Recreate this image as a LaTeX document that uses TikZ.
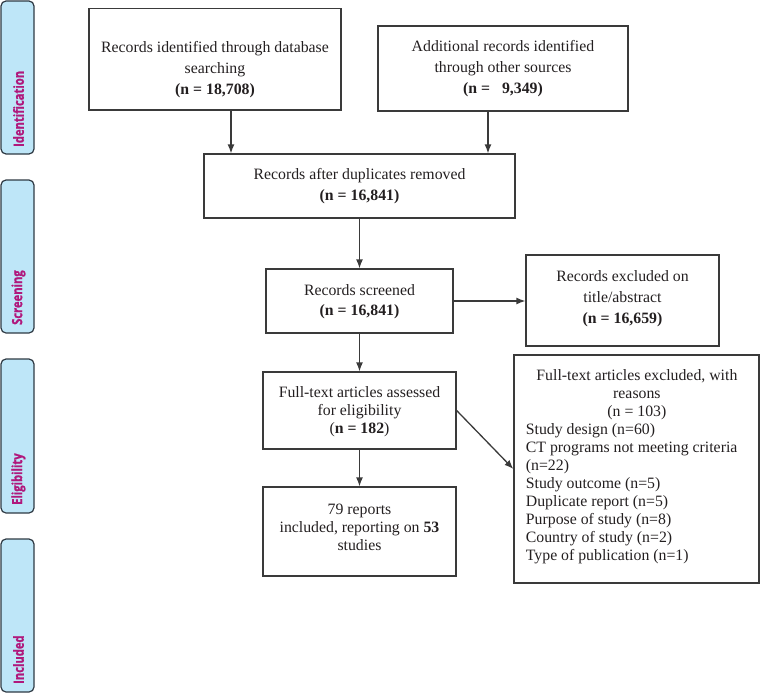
\documentclass[tikz,border=0pt]{standalone}
\usepackage{fontspec}
\setmainfont{Liberation Serif}
\newfontfamily\tabfont[FakeStretch=0.8, FakeBold=1.2]{Open Sans}
\usetikzlibrary{arrows.meta}
\definecolor{tabfill}{HTML}{BEE6F8}
\definecolor{tabline}{HTML}{2F3A44}
\definecolor{tabtext}{HTML}{B0187C}
\definecolor{boxline}{HTML}{3A3A3A}
\definecolor{txt}{HTML}{231F20}
\tikzset{
  box/.style={draw=boxline, line width=1.3pt, inner sep=0pt},
  txtA/.style={align=center, font=\fontsize{15.8}{21}\selectfont, text=txt, inner sep=0pt},
  txtB/.style={align=center, font=\fontsize{15.8}{18}\selectfont, text=txt, inner sep=0pt},
  tab/.style={draw=tabline, fill=tabfill, line width=1.2pt, rounded corners=5pt, minimum width=33pt, inner sep=0pt},
  tablabel/.style={rotate=90, anchor=west, inner sep=0pt, text=tabtext, font=\tabfont\bfseries\fontsize{14}{16}\selectfont},
  arr/.style={draw=boxline, line width=1.3pt, -{Latex[length=9pt,width=7pt]}},
}
\begin{document}
\begin{tikzpicture}[x=1pt,y=-1pt]
\useasboundingbox (0,0) rectangle (760,693);
% side tabs
\node[tab, minimum height=153pt] (tid) at (17.5,77.5) {};
\node[tablabel] (lid) at (18.5,147) {Identification};
\node[tab, minimum height=153pt] (tsc) at (17.5,256.5) {};
\node[tablabel] (lsc) at (18.5,325) {Screening};
\node[tab, minimum height=154pt] (tel) at (17.5,436) {};
\node[tablabel] (lel) at (18.5,505) {Eligibility};
\node[tab, minimum height=153pt] (tin) at (17.5,615.5) {};
\node[tablabel] (lin) at (18.5,684) {Included};
% boxes
\node[box, minimum width=252pt, minimum height=101.5pt] (b1) at (215,59.25) {};
\node[txtA] (t1) at (215,70) {Records identified through database\\searching\\\textbf{(n = 18,708)}};
\node[box, minimum width=250pt, minimum height=85pt] (b2) at (503,68.5) {};
\node[txtA] (t2) at (503,69) {Additional records identified\\through other sources\\\textbf{(n =\ \ \ 9,349)}};
\node[box, minimum width=311pt, minimum height=64pt] (b3) at (359.5,186) {};
\node[txtA] (t3) at (359.5,186.5) {Records after duplicates removed\\\textbf{(n = 16,841)}};
\node[box, minimum width=187pt, minimum height=64pt] (b4) at (359.5,301) {};
\node[txtB] (t4) at (359.5,302) {Records screened\\[2pt]\textbf{(n = 16,841)}};
\node[box, minimum width=193pt, minimum height=91pt] (b5) at (622.5,300.5) {};
\node[txtA] (t5) at (622.5,299) {Records excluded on\\title/abstract\\\textbf{(n = 16,659)}};
\node[box, minimum width=193pt, minimum height=77pt] (b6) at (359.5,410.5) {};
\node[txtB] (t6) at (359.5,412) {Full-text articles assessed\\for eligibility\\(\textbf{n = 182})};
\node[box, minimum width=193pt, minimum height=89pt] (b7) at (359.5,531.5) {};
\node[txtB] (t7) at (359.5,527) {79 reports\\included, reporting on \textbf{53}\\studies};
\node[box, minimum width=245pt, minimum height=228pt] (b8) at (636.5,469) {};
\node[txtB, align=left, anchor=north west] (t8) at (525.7,369.5) {%
\makebox[222pt][c]{Full-text articles excluded, with}\\
\makebox[222pt][c]{reasons}\\
\makebox[222pt][c]{(n = 103)}\\
Study design (n=60)\\
CT programs not meeting criteria\\
(n=22)\\
Study outcome (n=5)\\
Duplicate report (n=5)\\
Purpose of study (n=8)\\
Country of study (n=2)\\
Type of publication (n=1)};
% arrows
\draw[arr] ([xshift=16pt]b1.south) -- ([xshift=16pt]b1.south |- b3.north);
\draw[arr] ([xshift=-15pt]b2.south) -- ([xshift=-15pt]b2.south |- b3.north);
\draw[arr] (b3.south) -- (b4.north);
\draw[arr] (b4.east) -- (b4.east -| b5.west);
\draw[arr] (b4.south) -- (b6.north);
\draw[arr] (b6.east) -- (b8.west);
\draw[arr] (b6.south) -- (b7.north);
\end{tikzpicture}
\end{document}
